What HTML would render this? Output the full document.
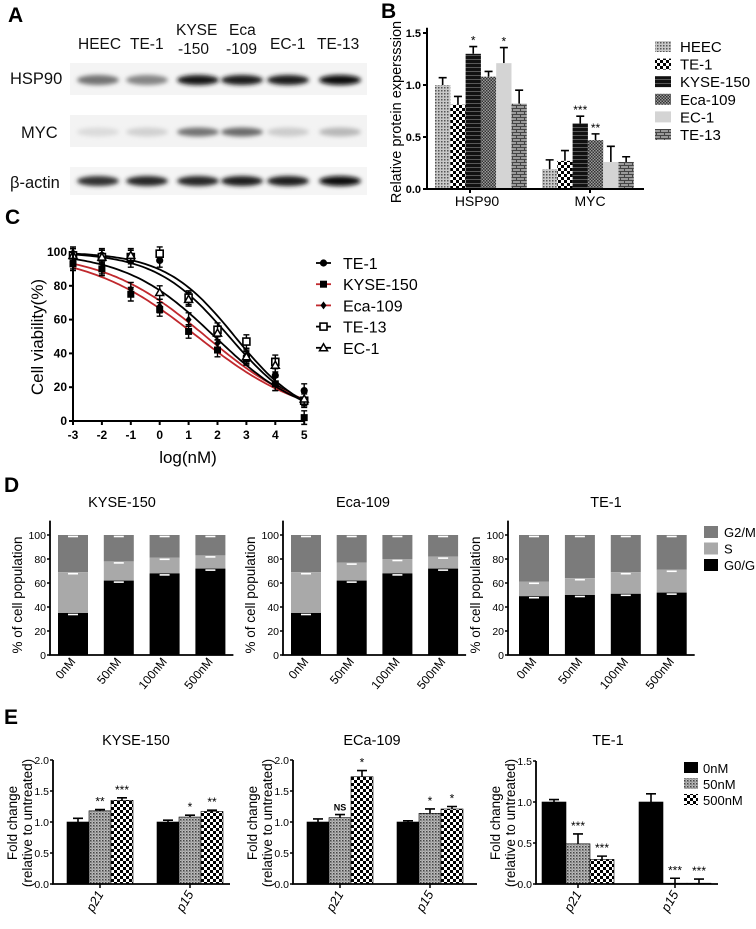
<!DOCTYPE html>
<html><head><meta charset="utf-8">
<style>
html,body{margin:0;padding:0;background:#fff;}
svg{display:block;font-family:"Liberation Sans",Arial,sans-serif;}
</style></head>
<body>
<svg id="fig" width="756" height="929" viewBox="0 0 756 929" xmlns="http://www.w3.org/2000/svg">
<defs>
  <filter id="blur" x="-20%" y="-50%" width="140%" height="200%"><feGaussianBlur stdDeviation="2.2"/></filter>
  <pattern id="pHEEC" width="3" height="3" patternUnits="userSpaceOnUse"><rect width="3" height="3" fill="#c8c8c8"/><rect width="1.5" height="1.5" fill="#555"/></pattern>
  <pattern id="pTE1" width="6" height="6" patternUnits="userSpaceOnUse"><rect width="6" height="6" fill="#fff"/><rect width="3" height="3" fill="#000"/><rect x="3" y="3" width="3" height="3" fill="#000"/></pattern>
  <pattern id="pKYSE" width="4" height="4" patternUnits="userSpaceOnUse"><rect width="4" height="4" fill="#111"/><rect y="3" width="4" height="0.7" fill="#777"/></pattern>
  <pattern id="pEca" width="3" height="3" patternUnits="userSpaceOnUse"><rect width="3" height="3" fill="#999"/><rect width="1.5" height="1.5" fill="#333"/><rect x="1.5" y="1.5" width="1.5" height="1.5" fill="#333"/></pattern>
  <pattern id="pEC1" width="4" height="4" patternUnits="userSpaceOnUse"><rect width="4" height="4" fill="#d4d4d4"/></pattern>
  <pattern id="pTE13" width="8" height="6" patternUnits="userSpaceOnUse"><rect width="8" height="6" fill="#9a9a9a"/><rect y="0" width="8" height="1" fill="#444"/><rect x="0" y="0" width="1" height="3" fill="#444"/><rect y="3" width="8" height="1" fill="#444"/><rect x="4" y="3" width="1" height="3" fill="#444"/></pattern>
  <pattern id="p50" width="3" height="3" patternUnits="userSpaceOnUse"><rect width="3" height="3" fill="#bbb"/><rect width="1.5" height="1.5" fill="#444"/><rect x="1.5" y="1.5" width="1" height="1" fill="#666"/></pattern>
  <pattern id="p500" width="6" height="6" patternUnits="userSpaceOnUse"><rect width="6" height="6" fill="#fff"/><rect width="3" height="3" fill="#000"/><rect x="3" y="3" width="3" height="3" fill="#000"/></pattern>
</defs>

<text x="8" y="22" font-size="21" font-weight="bold">A</text>
<text x="381" y="18" font-size="21" font-weight="bold">B</text>
<text x="5" y="224" font-size="21" font-weight="bold">C</text>
<text x="4" y="492" font-size="21" font-weight="bold">D</text>
<text x="4" y="724" font-size="21" font-weight="bold">E</text>

<g id="panelA" font-size="15.5" fill="#111">
  <text x="78" y="49">HEEC</text>
  <text x="130" y="49">TE-1</text>
  <text x="176" y="35">KYSE</text>
  <text x="178" y="54">-150</text>
  <text x="229" y="35">Eca</text>
  <text x="226" y="54">-109</text>
  <text x="270" y="49">EC-1</text>
  <text x="317" y="49">TE-13</text>
  <text x="10" y="84" font-size="16.5">HSP90</text>
  <text x="21" y="138" font-size="16.5">MYC</text>
  <text x="10" y="188" font-size="16.5">β-actin</text>
  <rect x="70" y="63" width="297" height="32" fill="#f4f4f4"/>
  <rect x="70" y="115" width="297" height="32" fill="#f3f3f3"/>
  <rect x="70" y="167" width="297" height="28" fill="#f5f5f5"/>
  <g id="bands"></g>
</g>

<g id="panelB">
  <text transform="translate(401,112) rotate(-90)" text-anchor="middle" font-size="14.5">Relative protein expersssion</text>
  <text x="477" y="206" text-anchor="middle" font-size="14">HSP90</text>
  <text x="590" y="206" text-anchor="middle" font-size="14">MYC</text>
</g>

<g id="panelC">
  <text transform="translate(43,337) rotate(-90)" text-anchor="middle" font-size="17">Cell viability(%)</text>
  <text x="188" y="463" text-anchor="middle" font-size="17">log(nM)</text>
</g>

<g id="panelD"></g>
<g id="panelE"></g>
</svg>

<script>
// ---------- Panel A data ----------
const laneX = [98, 147, 198, 242, 288, 340];
const hspIntensity = [0.55, 0.48, 0.92, 0.88, 0.88, 0.97];
const mycIntensity = [0.14, 0.18, 0.55, 0.58, 0.2, 0.28];
const actinIntensity = [0.8, 0.85, 0.85, 0.88, 0.88, 0.97];

// ---------- Panel B data ----------
const bGroups = ['HSP90', 'MYC'];
const bSeries = ['HEEC', 'TE-1', 'KYSE-150', 'Eca-109', 'EC-1', 'TE-13'];
const bHSP90 = [1.0, 0.81, 1.30, 1.08, 1.21, 0.82];
const bHSP90Err = [0.07, 0.08, 0.07, 0.05, 0.15, 0.13];
const bMYC = [0.19, 0.27, 0.63, 0.47, 0.26, 0.26];
const bMYCErr = [0.09, 0.10, 0.07, 0.06, 0.15, 0.05];
const bHSP90Sig = ['', '', '*', '', '*', ''];
const bMYCSig = ['', '', '***', '**', '', ''];
const bTicks = [0, 0.5, 1.0, 1.5];
const bTickLabels = ['0.0', '0.5', '1.0', '1.5'];

// ---------- Panel C data ----------
const cX = [-3, -2, -1, 0, 1, 2, 3, 4, 5];
const cNames = ['TE-1', 'KYSE-150', 'Eca-109', 'TE-13', 'EC-1'];
const cTE1 = [99, 98, 95, 95, 72, 52, 38, 27, 18];
const cKYSE = [93, 90, 75, 66, 53, 42, 37, 22, 2];
const cEca = [94, 91, 78, 68, 60, 46, 39, 22, 13];
const cTE13 = [98, 97, 97, 99, 73, 54, 47, 35, 12];
const cEC1 = [98, 97, 98, 76, 72, 52, 38, 33, 13];
const cLogIC50 = [2.4, 1.3, 1.6, 2.6, 1.9];
const cHill = [0.34, 0.23, 0.245, 0.36, 0.28];
const cYTicks = [0, 20, 40, 60, 80, 100];

// ---------- Panel D data ----------
const dDoses = ['0nM', '50nM', '100nM', '500nM'];
const dTitles = ['KYSE-150', 'Eca-109', 'TE-1'];
const dKYSEG0 = [35, 62, 68, 72];
const dKYSES = [69, 78, 81, 83];
const dEcaG0 = [35, 62, 68, 72];
const dEcaS = [69, 77, 80, 82];
const dTE1G0 = [49, 50, 51, 52];
const dTE1S = [61, 64, 69, 71];
const dTicks = [0, 20, 40, 60, 80, 100];

// ---------- Panel E data ----------
const eTitles = ['KYSE-150', 'ECa-109', 'TE-1'];
const eGenes = ['p21', 'p15'];
const eKYSEp21 = [1.0, 1.18, 1.35];
const eKYSEp21Err = [0.06, 0.02, 0.04];
const eKYSEp15 = [1.0, 1.08, 1.17];
const eKYSEp15Err = [0.03, 0.03, 0.02];
const eEcap21 = [1.0, 1.07, 1.73];
const eEcap21Err = [0.05, 0.05, 0.10];
const eEcap15 = [1.0, 1.14, 1.21];
const eEcap15Err = [0.02, 0.07, 0.04];
const eTE1p21 = [1.0, 0.49, 0.30];
const eTE1p21Err = [0.03, 0.12, 0.04];
const eTE1p15 = [1.0, 0.01, 0.01];
const eTE1p15Err = [0.10, 0.06, 0.05];
const eKYSESig = [['', '**', '***'], ['', '*', '**']];
const eEcaSig = [['', 'NS', '*'], ['', '*', '*']];
const eTE1Sig = [['', '***', '***'], ['', '***', '***']];
const eTicks12 = [0, 0.5, 1.0, 1.5, 2.0];
const eTicks3 = [0, 0.5, 1.0, 1.5];

const NS = 'http://www.w3.org/2000/svg';
function mk(tag, attrs, parent) {
  const e = document.createElementNS(NS, tag);
  for (const k in attrs) e.setAttribute(k, attrs[k]);
  parent.appendChild(e);
  return e;
}
function fmt(v) { return v.toFixed(1); }

// ---------- Draw A ----------
const gBands = document.getElementById('bands');
function drawBands(arr, cy, h, rowName) {
  arr.forEach((v, i) => {
    const g = Math.round(255 * (1 - v));
    const b = mk('ellipse', {cx: laneX[i], cy: cy, rx: 21, ry: h, fill: `rgb(${g},${g},${g})`, filter: 'url(#blur)'}, gBands);
    
    
  });
}
drawBands(hspIntensity, 80, 5, 'hsp90');
drawBands(mycIntensity, 132, 4.5, 'myc');
drawBands(actinIntensity, 181, 5, 'actin');

// ---------- Draw B ----------
const gB = document.getElementById('panelB');
const bX0 = 427, bY0 = 189, bKy = 104, bXEnd = 644, bBarW = 15.3;
const bGroupStart = [435, 542];
const bFills = ['url(#pHEEC)', 'url(#pTE1)', 'url(#pKYSE)', 'url(#pEca)', 'url(#pEC1)', 'url(#pTE13)'];
function bY(v) { return bY0 - v * bKy; }
const bVals = [bHSP90, bMYC], bErrs = [bHSP90Err, bMYCErr], bSigs = [bHSP90Sig, bMYCSig];
bGroups.forEach((gname, gi) => {
  bVals[gi].forEach((v, si) => {
    const x = bGroupStart[gi] + si * bBarW;
    const top = bY(v), et = bY(v + bErrs[gi][si]);
    const eb = mk('path', {d: `M${x + bBarW / 2} ${top}V${et}M${x + bBarW / 2 - 4} ${et}H${x + bBarW / 2 + 4}`, stroke: '#000', 'stroke-width': 1.6, fill: 'none'}, gB);
    
    
    const r = mk('rect', {x: x, y: top, width: bBarW, height: bY0 - top, fill: bFills[si]}, gB);
    
    
    if (bSigs[gi][si]) {
      const t = mk('text', {x: x + bBarW / 2, y: et - 2, 'text-anchor': 'middle', 'font-size': 12}, gB);
      t.textContent = bSigs[gi][si];
      
      
    }
  });
});
const bAxis = mk('path', {d: `M${bX0} ${bY(1.55)}V${bY0}H${bXEnd}`, stroke: '#000', 'stroke-width': 2, fill: 'none'}, gB);


bTicks.forEach((t, i) => {
  const tk = mk('line', {x1: bX0 - 4, x2: bX0, y1: bY(t), y2: bY(t), stroke: '#000', 'stroke-width': 2}, gB);
  
  
  const tl = mk('text', {x: bX0 - 6, y: bY(t) + 4, 'text-anchor': 'end', 'font-size': 11, 'font-weight': 'bold'}, gB);
  tl.textContent = bTickLabels[i];
  
  
});
[470, 590].forEach(x => {
  const tk = mk('line', {x1: x, x2: x, y1: bY0, y2: bY0 + 4, stroke: '#000', 'stroke-width': 2}, gB);
  
  
});
bSeries.forEach((s, i) => {
  const y = 47 + i * 17.6;
  const sw = mk('rect', {x: 655, y: y - 6, width: 16, height: 11, fill: bFills[i]}, gB);
  
  
  const t = mk('text', {x: 680, y: y + 5, 'font-size': 15}, gB);
  t.textContent = s;
  
  
});

// ---------- Draw C ----------
const gC = document.getElementById('panelC');
const cX0 = 73, cKx = 28.9, cY0 = 421, cKy = 1.69;
function cx(v) { return cX0 + (v + 3) * cKx; }
function cy(v) { return cY0 - v * cKy; }
const cData = [cTE1, cKYSE, cEca, cTE13, cEC1];
const cColors = ['#000', '#c0282d', '#c0282d', '#000', '#000'];
const cMarkers = ['circle', 'square', 'diamond', 'opensquare', 'triangle'];
function drawMarker(type, x, y, parent) {
  let m;
  if (type === 'circle') m = mk('circle', {cx: x, cy: y, r: 3.6, fill: '#000'}, parent);
  else if (type === 'square') m = mk('rect', {x: x - 3.5, y: y - 3.5, width: 7, height: 7, fill: '#000'}, parent);
  else if (type === 'diamond') m = mk('path', {d: `M${x} ${y - 4}L${x + 3} ${y}L${x} ${y + 4}L${x - 3} ${y}Z`, fill: '#000'}, parent);
  else if (type === 'opensquare') m = mk('rect', {x: x - 3.5, y: y - 3.5, width: 7, height: 7, fill: '#fff', stroke: '#000', 'stroke-width': 1.6}, parent);
  else m = mk('path', {d: `M${x} ${y - 4}L${x + 4} ${y + 3}L${x - 4} ${y + 3}Z`, fill: '#fff', stroke: '#000', 'stroke-width': 1.5}, parent);
  return m;
}
cData.forEach((arr, si) => {
  let d = '';
  for (let v = -3; v <= 5.001; v += 0.1) {
    const yv = 100 / (1 + Math.pow(10, (v - cLogIC50[si]) * cHill[si]));
    d += (d ? 'L' : 'M') + cx(v).toFixed(1) + ' ' + cy(yv).toFixed(1);
  }
  const p = mk('path', {d: d, stroke: cColors[si], 'stroke-width': 1.8, fill: 'none'}, gC);
  
  
});
cData.forEach((arr, si) => {
  arr.forEach((v, i) => {
    const x = cx(cX[i]);
    const e = mk('path', {d: `M${x} ${cy(v + 4)}V${cy(v - 4)}M${x - 3} ${cy(v + 4)}H${x + 3}M${x - 3} ${cy(v - 4)}H${x + 3}`, stroke: '#000', 'stroke-width': 1.4, fill: 'none'}, gC);
    
    
    const m = drawMarker(cMarkers[si], x, cy(v), gC);
    
    
  });
});
const cAxis = mk('path', {d: `M${cX0} ${cy(102)}V${cY0}H${cx(5)}`, stroke: '#000', 'stroke-width': 2, fill: 'none'}, gC);


cYTicks.forEach(t => {
  const tk = mk('line', {x1: cX0 - 4, x2: cX0, y1: cy(t), y2: cy(t), stroke: '#000', 'stroke-width': 2}, gC);
  
  
  const tl = mk('text', {x: cX0 - 6, y: cy(t) + 4, 'text-anchor': 'end', 'font-size': 12, 'font-weight': 'bold'}, gC);
  tl.textContent = t;
  
  
});
cX.forEach(t => {
  const tk = mk('line', {x1: cx(t), x2: cx(t), y1: cY0, y2: cY0 + 4, stroke: '#000', 'stroke-width': 2}, gC);
  
  
  const tl = mk('text', {x: cx(t), y: cY0 + 18, 'text-anchor': 'middle', 'font-size': 12, 'font-weight': 'bold'}, gC);
  tl.textContent = t;
  
  
});
cNames.forEach((n, i) => {
  const y = 263 + i * 21.2;
  const ln = mk('line', {x1: 316, x2: 331, y1: y, y2: y, stroke: cColors[i], 'stroke-width': 1.8}, gC);
  
  
  const m = drawMarker(cMarkers[i], 323.5, y, gC);
  
  
  const t = mk('text', {x: 343, y: y + 6, 'font-size': 16}, gC);
  t.textContent = n;
  
  
});

// ---------- Draw D ----------
const gD = document.getElementById('panelD');
const dBase = 655, dKy = 1.2;
const dAxisX = [50, 283, 508];
const dBarX0 = [58, 291, 519];
const dPitch = [45.8, 45.7, 45.9];
const dBarW = 30;
const dTitleX = [122, 363, 606];
const dG0 = [dKYSEG0, dEcaG0, dTE1G0], dS = [dKYSES, dEcaS, dTE1S];
function dy(v) { return dBase - v * dKy; }
dTitles.forEach((title, pi) => {
  const tt = mk('text', {x: dTitleX[pi], y: 507, 'text-anchor': 'middle', 'font-size': 14.5}, gD);
  tt.textContent = title;
  
  
  const yl = mk('text', {transform: `translate(${dAxisX[pi] - 28},${595}) rotate(-90)`, 'text-anchor': 'middle', 'font-size': 13.5}, gD);
  yl.textContent = '% of cell population';
  
  
  dDoses.forEach((dose, i) => {
    const x = dBarX0[pi] + i * dPitch[pi];
    const g0 = dG0[pi][i], s = dS[pi][i];
    const r1 = mk('rect', {x: x, y: dy(100), width: dBarW, height: dy(s) - dy(100), fill: '#7b7b7b'}, gD);
    
    
    const r2 = mk('rect', {x: x, y: dy(s), width: dBarW, height: dy(g0) - dy(s), fill: '#a9a9a9'}, gD);
    
    
    const r3 = mk('rect', {x: x, y: dy(g0), width: dBarW, height: dBase - dy(g0), fill: '#000'}, gD);
    
    
    [g0, s, 100].forEach(v => {
      const c = mk('line', {x1: x + dBarW / 2 - 5, x2: x + dBarW / 2 + 5, y1: dy(v) + 1.5, y2: dy(v) + 1.5, stroke: '#fff', 'stroke-width': 1.6}, gD);
      
      
    });
    const lx = x + dBarW / 2 + 3;
    const xl = mk('text', {transform: `translate(${lx},${dBase + 7}) rotate(-50)`, 'text-anchor': 'end', 'font-size': 12}, gD);
    xl.textContent = dose;
    
    
  });
  const endX = dBarX0[pi] + 3 * dPitch[pi] + dBarW + 8;
  const ax = mk('path', {d: `M${dAxisX[pi]} ${dy(112)}V${dBase}H${endX}`, stroke: '#000', 'stroke-width': 1.8, fill: 'none'}, gD);
  
  
  dTicks.forEach(t => {
    const tk = mk('line', {x1: dAxisX[pi] - 3, x2: dAxisX[pi], y1: dy(t), y2: dy(t), stroke: '#000', 'stroke-width': 1.5}, gD);
    
    
    const tl = mk('text', {x: dAxisX[pi] - 4, y: dy(t) + 4, 'text-anchor': 'end', 'font-size': 10.5}, gD);
    tl.textContent = t;
    
    
  });
});
const dLegNames = ['G2/M', 'S', 'G0/G1'];
const dLegFills = ['#7b7b7b', '#a9a9a9', '#000'];
dLegNames.forEach((n, i) => {
  const y = 532 + i * 16.5;
  const sw = mk('rect', {x: 704, y: y - 6, width: 14, height: 12, fill: dLegFills[i]}, gD);
  
  
  const t = mk('text', {x: 724, y: y + 5, 'font-size': 13}, gD);
  t.textContent = n;
  
  
});

// ---------- Draw E ----------
const gE = document.getElementById('panelE');
const eBase = 884;
const eAxisX = [53, 293, 536];
const eAxisEnd = [230, 477, 718];
const eKy = [62, 62, 82];
const eBarW = [22, 22, 24];
const eCenters = [[100, 190], [340, 430], [578, 675]];
const eTitleX = [136, 372, 608];
const eVals = [[eKYSEp21, eKYSEp15], [eEcap21, eEcap15], [eTE1p21, eTE1p15]];
const eErrs = [[eKYSEp21Err, eKYSEp15Err], [eEcap21Err, eEcap15Err], [eTE1p21Err, eTE1p15Err]];
const eSigs = [eKYSESig, eEcaSig, eTE1Sig];
const eTicks = [eTicks12, eTicks12, eTicks3];
const eFills = ['#000', 'url(#p50)', 'url(#p500)'];
eTitles.forEach((title, pi) => {
  const ey = v => eBase - v * eKy[pi];
  const tt = mk('text', {x: eTitleX[pi], y: 745, 'text-anchor': 'middle', 'font-size': 14.5}, gE);
  tt.textContent = title;
  
  
  const yl1 = mk('text', {transform: `translate(${eAxisX[pi] - 36},${823}) rotate(-90)`, 'text-anchor': 'middle', 'font-size': 13.5}, gE);
  yl1.textContent = 'Fold change';
  
  
  const yl2 = mk('text', {transform: `translate(${eAxisX[pi] - 21},${823}) rotate(-90)`, 'text-anchor': 'middle', 'font-size': 13.5}, gE);
  yl2.textContent = '(relative to untreated)';
  
  
  eGenes.forEach((gene, gi) => {
    const c = eCenters[pi][gi];
    eVals[pi][gi].forEach((v, si) => {
      const w = eBarW[pi];
      const x = c - 1.5 * w + si * w;
      const top = ey(v), et = ey(v + eErrs[pi][gi][si]);
      const eb = mk('path', {d: `M${x + w / 2} ${top}V${et}M${x + w / 2 - 5} ${et}H${x + w / 2 + 5}`, stroke: '#000', 'stroke-width': 1.6, fill: 'none'}, gE);
      
      
      const r = mk('rect', {x: x, y: top, width: w, height: eBase - top, fill: eFills[si], stroke: '#000', 'stroke-width': 0.6}, gE);
      
      
      const sig = eSigs[pi][gi][si];
      if (sig) {
        const t = mk('text', {x: x + w / 2, y: et - 4, 'text-anchor': 'middle', 'font-size': sig === 'NS' ? 9 : 12, 'font-weight': sig === 'NS' ? 'bold' : 'normal'}, gE);
        t.textContent = sig;
        
        
      }
    });
    const tk = mk('line', {x1: c, x2: c, y1: eBase, y2: eBase + 4, stroke: '#000', 'stroke-width': 1.5}, gE);
    
    
    const xl = mk('text', {transform: `translate(${c + 4},${eBase + 10}) rotate(-60)`, 'text-anchor': 'end', 'font-size': 13, 'font-style': 'italic'}, gE);
    xl.textContent = gene;
    
    
  });
  const maxT = eTicks[pi][eTicks[pi].length - 1];
  const ax = mk('path', {d: `M${eAxisX[pi]} ${ey(maxT)}V${eBase}H${eAxisEnd[pi]}`, stroke: '#000', 'stroke-width': 1.8, fill: 'none'}, gE);
  
  
  eTicks[pi].forEach(t => {
    const tk = mk('line', {x1: eAxisX[pi] - 3, x2: eAxisX[pi], y1: ey(t), y2: ey(t), stroke: '#000', 'stroke-width': 1.5}, gE);
    
    
    const tl = mk('text', {x: eAxisX[pi] - 4, y: ey(t) + 4, 'text-anchor': 'end', 'font-size': 10.5}, gE);
    tl.textContent = fmt(t);
    
    
  });
});
const eLegNames = ['0nM', '50nM', '500nM'];
eLegNames.forEach((n, i) => {
  const y = 768 + i * 16;
  const sw = mk('rect', {x: 684, y: y - 6, width: 14, height: 11, fill: eFills[i]}, gE);
  
  
  const t = mk('text', {x: 703, y: y + 5, 'font-size': 13}, gE);
  t.textContent = n;
  
  
});
</script>
</body></html>
